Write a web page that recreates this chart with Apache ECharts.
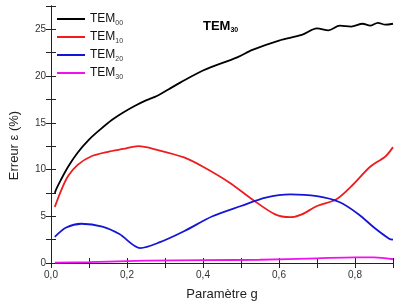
<!DOCTYPE html>
<html>
<head>
<meta charset="utf-8">
<script src="https://cdn.jsdelivr.net/npm/echarts@6/dist/echarts.min.js"></script>
<style>
  html, body { margin: 0; padding: 0; background: #fff; }
  #grafico { width: 404px; height: 306px; }
</style>
</head>
<body>
<div id="grafico"></div>
<script>
// Données (g, erreur en %)
var gTem00 = [0.01, 0.015, 0.026, 0.045, 0.07, 0.1, 0.13, 0.16, 0.19, 0.22, 0.25, 0.28, 0.31, 0.34, 0.40, 0.49, 0.53, 0.60, 0.66, 0.70, 0.73, 0.76, 0.79, 0.82, 0.84, 0.86, 0.88, 0.9];
var errTem00 = [7.5, 8.0, 8.9, 10.3, 11.8, 13.2, 14.3, 15.3, 16.1, 16.8, 17.4, 17.9, 18.6, 19.3, 20.6, 22.0, 22.8, 23.8, 24.4, 25.1, 24.9, 25.4, 25.3, 25.6, 25.4, 25.7, 25.5, 25.6];

var gTem10 = [0.01, 0.026, 0.045, 0.07, 0.105, 0.15, 0.19, 0.23, 0.28, 0.35, 0.40, 0.47, 0.53, 0.59, 0.63, 0.66, 0.70, 0.75, 0.79, 0.84, 0.88, 0.9];
var errTem10 = [6.0, 7.7, 9.3, 10.5, 11.4, 11.9, 12.2, 12.5, 12.1, 11.3, 10.3, 8.6, 6.8, 5.2, 4.9, 5.2, 6.1, 6.8, 8.2, 10.3, 11.4, 12.4];

var gTem20 = [0.01, 0.04, 0.08, 0.135, 0.18, 0.235, 0.285, 0.35, 0.425, 0.5, 0.565, 0.63, 0.70, 0.76, 0.81, 0.85, 0.89, 0.9];
var errTem20 = [2.8, 3.8, 4.2, 3.9, 3.1, 1.6, 2.2, 3.4, 5.0, 6.1, 7.0, 7.35, 7.15, 6.5, 5.2, 3.8, 2.6, 2.5];

var gTem30 = [0.01, 0.1, 0.25, 0.4, 0.55, 0.7, 0.8, 0.85, 0.9];
var errTem30 = [0.05, 0.1, 0.25, 0.3, 0.35, 0.5, 0.6, 0.6, 0.4];

var nomsSeries = ['TEM00', 'TEM10', 'TEM20', 'TEM30'];
var couleurs = ['#000000', '#ee1c1c', '#1515d8', '#f010f0'];

var xTickValues = [0, 0.2, 0.4, 0.6, 0.8];
var xTickLabels = ['0,0', '0,2', '0,4', '0,6', '0,8'];
var yTickValues = [0, 5, 10, 15, 20, 25];
var yTickLabels = ['0', '5', '10', '15', '20', '25'];

function paires(gs, vals) {
  return gs.map(function (g, i) { return [g, vals[i]]; });
}

function etiquette(valeurs, textes) {
  return function (v) {
    for (var i = 0; i < valeurs.length; i++) {
      if (Math.abs(v - valeurs[i]) < 1e-6) return textes[i];
    }
    return '';
  };
}

var police = 'Liberation Sans, Arial, sans-serif';

var axeCommun = {
  axisLine: { show: true, lineStyle: { color: '#222', width: 1 } },
  axisTick: { show: true, inside: true, length: 5, lineStyle: { color: '#222' } },
  splitLine: { show: false }
};

var grafico = echarts.init(document.getElementById('grafico'));

var donnees = [paires(gTem00, errTem00), paires(gTem10, errTem10), paires(gTem20, errTem20), paires(gTem30, errTem30)];

var option = {
  animation: false,
  textStyle: { fontFamily: police },
  title: {
    text: '{a|TEM}{b|30}',
    left: 198,
    top: 14,
    textStyle: {
      rich: {
        a: { fontSize: 13, fontWeight: 'bold', color: '#000', fontFamily: police },
        b: { fontSize: 7, fontWeight: 'bold', color: '#000', fontFamily: police, padding: [8, 0, 0, 0] }
      }
    }
  },
  legend: {
    orient: 'vertical',
    left: 52,
    top: 8,
    itemWidth: 28,
    itemHeight: 2,
    itemGap: 4,
    icon: 'rect',
    data: nomsSeries,
    formatter: function (nom) {
      return '{a|TEM}{b|' + nom.slice(3) + '}';
    },
    textStyle: {
      rich: {
        a: { fontSize: 12, color: '#111', fontFamily: police },
        b: { fontSize: 7, color: '#333', fontFamily: police, padding: [9, 0, 0, 0] }
      }
    }
  },
  grid: { left: 48, right: 11, top: 6, bottom: 41 },
  xAxis: [
    Object.assign({}, axeCommun, {
      type: 'value',
      min: 0,
      max: 0.9,
      interval: 0.1,
      name: 'Paramètre g',
      nameLocation: 'middle',
      nameGap: 25,
      nameTextStyle: { fontSize: 13, color: '#222', fontFamily: police },
      axisLabel: { fontSize: 10, color: '#333', margin: 7, formatter: etiquette(xTickValues, xTickLabels), showMaxLabel: true }
    }),
    Object.assign({}, axeCommun, {
      type: 'value',
      position: 'top',
      min: 0,
      max: 0.9,
      interval: 0.1,
      axisLabel: { show: false }
    })
  ],
  yAxis: [
    Object.assign({}, axeCommun, {
      type: 'value',
      min: 0,
      max: 27.5,
      interval: 2.5,
      name: 'Erreur ε (%)',
      nameLocation: 'middle',
      nameGap: 30,
      nameTextStyle: { fontSize: 13, color: '#222', fontFamily: police, padding: [0, 22, 0, 0] },
      axisLabel: { fontSize: 10, color: '#333', margin: 5, formatter: etiquette(yTickValues, yTickLabels) }
    }),
    Object.assign({}, axeCommun, {
      type: 'value',
      position: 'right',
      min: 0,
      max: 27.5,
      interval: 2.5,
      axisLabel: { show: false }
    })
  ],
  series: nomsSeries.map(function (nom, i) {
    return {
      name: nom,
      type: 'line',
      xAxisIndex: 0,
      yAxisIndex: 0,
      data: donnees[i],
      smooth: 0.3,
      showSymbol: false,
      symbol: 'none',
      itemStyle: { color: couleurs[i] },
      lineStyle: { color: couleurs[i], width: 1.8 }
    };
  })
};

grafico.setOption(option);
</script>
</body>
</html>
